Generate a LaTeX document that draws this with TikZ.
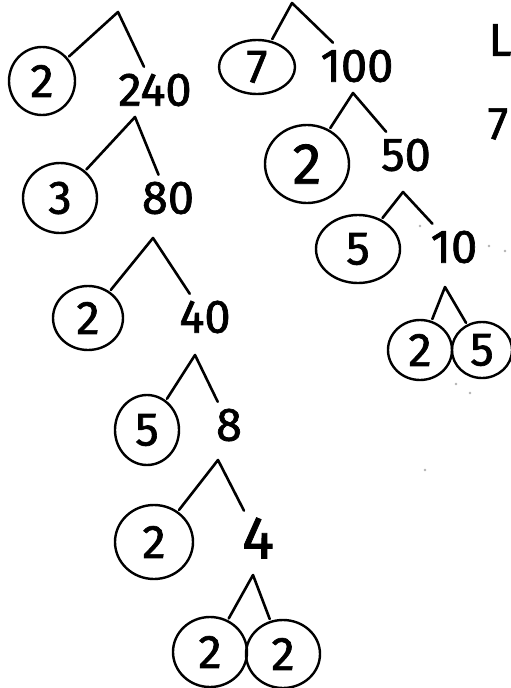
\documentclass[tikz,border=0pt]{standalone}
\usepackage{fontspec}
\newfontfamily\handfont[FakeBold=1.4]{Fira Sans}
\usepackage{tikz}
\usetikzlibrary{shapes.geometric}
\newcommand{\hand}{\handfont\fontsize{47}{50}\selectfont}

\begin{document}
\begin{tikzpicture}[
    x=1pt, y=-1pt,
    fac/.style={ellipse, draw, line width=2.4pt, inner sep=0pt, outer sep=3pt,
      font=\hand},
    num/.style={inner sep=0pt, outer sep=7pt, font=\hand},
    note/.style={inner sep=0pt, font=\handfont\fontsize{46}{50}\selectfont},
    branch/.style={line width=2.6pt, line cap=round, line join=round},
    speck/.style={fill=black!30}
  ]
    \useasboundingbox[fill=white] (0,0) rectangle (511,688);
    % left tree: 2 x 240
    \coordinate (k1) at (118,12);
    \node[fac, minimum width=66pt, minimum height=68pt] (f2a) at (42,81) {2};
    \node[num] (n240) at (155,90) {240};
    \coordinate (k3) at (135,117);
    \node[fac, minimum width=74pt, minimum height=70pt] (f3) at (60,198) {3};
    \node[num] (n80) at (168,198) {80};
    \coordinate (k4) at (153,238);
    \node[fac, minimum width=70pt, minimum height=64pt] (f2b) at (88,318) {2};
    \node[num] (n40) at (205,317) {40};
    \coordinate (k5) at (195,355);
    \node[fac, minimum width=64pt, minimum height=70pt] (f5) at (147,430) {5};
    \node[num] (n8) at (229,425) {8};
    \coordinate (k6) at (218,460);
    \node[fac, minimum width=78pt, minimum height=74pt] (f2c) at (154,542) {2};
    \node[num, font=\handfont\fontsize{60}{64}\selectfont] (n4) at (258,538) {4};
    \coordinate (k7) at (253,575);
    \node[fac, minimum width=74pt, minimum height=70pt] (f2d) at (210,652) {2};
    \node[fac, minimum width=74pt, minimum height=68pt] (f2e) at (283,654) {2};
    % right tree: 7 x 100
    \coordinate (k2) at (292,3);
    \node[fac, minimum width=76pt, minimum height=54pt] (f7) at (257,67) {7};
    \node[num] (n100) at (357,66) {100};
    \coordinate (m1) at (353,93);
    \node[fac, minimum width=84pt, minimum height=78pt, font=\handfont\fontsize{58}{62}\selectfont] (g2a) at (307,164) {2};
    \node[num] (n50) at (406,155) {50};
    \coordinate (m2) at (403,192);
    \node[fac, minimum width=84pt, minimum height=68pt] (g5a) at (358,249) {5};
    \node[num] (n10) at (454,247) {10};
    \coordinate (m3) at (445,287);
    \node[fac, minimum width=64pt, minimum height=60pt] (g2b) at (420,350) {2};
    \node[fac, minimum width=60pt, minimum height=56pt] (g5b) at (482,350) {5};
    % notes at the right edge
    \node[note] (nL) at (500,40) {L};
    \node[note] (n7) at (498,124) {7};
    % branches
    \draw[branch] (f2a) -- (k1) -- (n240);
    \draw[branch] (f3) -- (k3) -- (n80);
    \draw[branch] (f2b) -- (k4) -- (n40);
    \draw[branch] (f5) -- (k5) -- (n8);
    \draw[branch] (f2c) -- (k6) -- (n4);
    \draw[branch] (f2d) -- (k7) -- (f2e);
    \draw[branch] (f7) -- (k2) -- (n100);
    \draw[branch] (g2a) -- (m1) -- (n50);
    \draw[branch] (g5a) -- (m2) -- (n10);
    \draw[branch] (g2b) -- (m3) -- (g5b);
    % specks
    \foreach \p in {(420,226),(489,246),(505,251),(456,384),(470,393),(425,470)}
      \fill[speck] \p circle (1.3pt);
  \end{tikzpicture}
\end{document}
